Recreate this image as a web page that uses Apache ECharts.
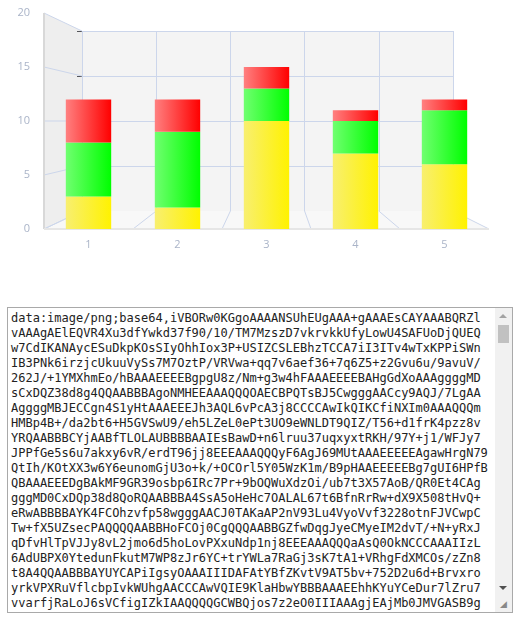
<!DOCTYPE html>
<html><head><meta charset="utf-8">
<script src="https://cdn.jsdelivr.net/npm/echarts@6/dist/echarts.min.js"></script>
<style>
body{margin:0;background:#fff;}
#chart{position:absolute;left:0;top:0;width:529px;height:260px;}
#txt{position:absolute;left:7px;top:307px;width:506px;height:306px;box-sizing:border-box;border:1px solid #a9a9a9;
font-family:"DejaVu Sans Mono",monospace;font-size:12px;line-height:15px;padding:3px 20px 3px 3px;color:#222;
resize:none;overflow:hidden;white-space:pre;margin:0;}
#sb{position:absolute;left:495px;top:308px;width:17px;height:304px;background:#f1f1f1;}
#thumb{position:absolute;left:3px;top:17px;width:11px;height:18px;background:#c1c1c1;}
.arr{position:absolute;left:4px;width:0;height:0;border-left:4px solid transparent;border-right:4px solid transparent;}
#up{top:6px;border-bottom:4px solid #a3a3a3;}
#dn{top:278px;border-top:4px solid #505050;}
#grip{position:absolute;left:5px;bottom:3px;font:9px sans-serif;color:#888;}
</style></head><body>
<div id="chart"></div>
<textarea id="txt" wrap="off"></textarea>
<div id="sb"><div class="arr" id="up"></div><div id="thumb"></div><div class="arr" id="dn"></div><div id="grip">◢</div></div>
<script>
const categories = ['1','2','3','4','5'];
const yellowVals = [3, 2, 10, 7, 6];
const greenVals = [5, 7, 3, 3, 5];
const redVals = [4, 3, 2, 1, 1];
const textLines = [
'data:image/png;base64,iVBORw0KGgoAAAANSUhEUgAAA+gAAAEsCAYAAABQRZl',
'vAAAgAElEQVR4Xu3dfYwkd37f90/10/TM7MzszD7vkrvkkUfyLowU4SAFUoDjQUEQ',
'w7CdIKANAycESuDkpKOsSIyOhhIox3P+USIZCSLEBhzTCCA7iI3ITv4wTxKPPiSWn',
'IB3PNk6irzjcUkuuVySs7M7OztP/VRVwa+qq7v6aef36+7q6Z5+z2Gvu6u/9avuV/',
'262J/+1YMXhmEo/hBAAAEEEEBgpgU8z/Nm+g3w4hFAAAEEEEBAHgGdXoAAAggggMD',
'sCxDQZ38d8g4QQAABBBAgoNMHEEAAAQQQOAECBPQTsBJ5CwgggAACcy9AQJ/7LgAA',
'AggggMBJECCgn4S1yHtAAAEEEJh3AQL6vPcA3j8CCCCAwIkQIKCfiNXIm0AAAQQQm',
'HMBp4B+/da2bt6+H5GVSwU9/eh5LZeL0ePt3UO9eWNLDT9QIZ/T56+d1frK4pzz8v',
'YRQAABBBCYjAABfTLOLAUBBBBAAIEsBawD+n6lruu37uqxyxtRKH/97Y+j1/WFJy7',
'JPPfGe5s6u7akxy6vR/erdT96jj8EEEAAAQQQyF6AgJ69MUtAAAEEEEEAgawHrgN79',
'QtIh/KOtXX3w6Y6eunomGjU3o+k/+OCOrl5Y05WzK1m/B9pHAAEEEEEBg7gUI6HPfB',
'QBAAAEEEDgBAkMF9GR39osbp6IRc7Pr+9bOQWuXdzOi/ub7t3X57AoB/QR0Et4CAg',
'gggMD0CxDQp38d8QoRQAABBBA4SsA5oHeHc7OALAL67t6BfnRrRw+dX9X508tHvQ+',
'eRwABBBBAYK4FCOhzvfp58wgggAACJ0TAKaAP2nV93Lu4VyoVvf3228otnFJVCwpC',
'Tw+fX5UZsecPAQQQQAABBHoFCOj0CgQQQAABBGZfwDqgJyeCMyeIM2dvT/+N+yRxJ',
'qDfvHlTpVJJy8vL2jmo6d5hoLovPXxuNdp1nj8EEEAAAQQQaAsQ0OkNCCCAAAIIzL',
'6AdUBPX0YtedunFkutM7WP8zJr6YC+trYWLa7RaGj3sK7tA1+VRhgFdXMCOs/zZn8',
't8A4QQAABBBAYUYCAPiIgsyOAAAIIIDAFAtYBfZKvtV9AT5bv+752D2u6d+Brvxro',
'yrkVPXRuVflcbpIvkWUhgAACCCAwVQIE9KlaHbwYBBBAAAEEhhKYuYCeDur7lZru7',
'vvarfjRaLoJ6sVCfigIZkIAAQQQQGCWBQjos7z2eO0IIIAAAgjEAjMb0JMVGASB9g',
'6AdUBPX0YtedunFkutM7WP8zJr6YC+trYWLa7RaGj3sK7tA1+VRhgFdXMCOs/zZn8'
];
document.getElementById('txt').value = textLines.join('\n');

const chart = echarts.init(document.getElementById('chart'));
const axisCol = '#ccd6eb';
function grad(light, dark){
  return new echarts.graphic.LinearGradient(0,0,1,0,[{offset:0,color:light},{offset:1,color:dark}]);
}
function bar(name, data, light, dark){
  return {name, type:'bar', stack:'s', data, xAxisIndex:0, yAxisIndex:0, barWidth:'51%',
    itemStyle:{color:grad(light,dark)}, z:5, silent:true};
}
chart.setOption({
  animation:false,
  grid:[
    {left:44, top:13, width:445, height:216},
    {left:82, top:31, width:371, height:180, show:true, backgroundColor:'#f4f4f4', borderWidth:0}
  ],
  xAxis:[
    {type:'category', data:categories, gridIndex:0, axisLine:{show:false}, axisTick:{show:false},
     axisLabel:{color:'#aab4c8', fontSize:11, margin:10, fontFamily:'Open Sans'}},
    {type:'value', gridIndex:1, min:0, max:5, interval:1, axisLabel:{show:false}, axisLine:{show:false}, axisTick:{show:false},
     splitLine:{show:true, lineStyle:{color:axisCol}}}
  ],
  yAxis:[
    {type:'value', gridIndex:0, min:0, max:20, interval:5, axisLine:{show:false}, splitLine:{show:false},
     axisLabel:{color:'#aab4c8', fontSize:11, margin:14, fontFamily:'Open Sans'}},
    {type:'value', gridIndex:1, min:0, max:20, interval:5, axisLabel:{show:false}, axisLine:{show:false},
     splitLine:{show:true, lineStyle:{color:axisCol}}}
  ],
  series:[
    bar('yellow', yellowVals, '#f8ef70', '#fff200'),
    bar('green', greenVals, '#70ff70', '#00ff00'),
    bar('red', redVals, '#ff8080', '#ff0000')
  ]
});

// side wall and floor, computed from both grids
const g = [];
const fx0 = 44, fx1 = 489;
const fy = v => chart.convertToPixel({yAxisIndex:0}, v);
const bx = i => chart.convertToPixel({xAxisIndex:1}, i);
const by = v => chart.convertToPixel({yAxisIndex:1}, v);
g.push({type:'polygon', z:0, shape:{points:[[fx0,fy(0)],[fx0,fy(20)],[bx(0),by(20)],[bx(0),by(0)]]}, style:{fill:'#eeeeee'}});
g.push({type:'polygon', z:0, shape:{points:[[fx0,fy(0)],[bx(0),by(0)],[bx(5),by(0)],[fx1,fy(0)]]}, style:{fill:'#f8f8f8'}});
[0,5,10,15,20].forEach(v => g.push({type:'line', z:1, shape:{x1:fx0,y1:fy(v),x2:bx(0),y2:by(v)}, style:{stroke:axisCol, lineWidth:1}}));
for (let i=0;i<=5;i++){
  const fxx = fx0 + (fx1-fx0)*i/5;
  g.push({type:'line', z:1, shape:{x1:fxx,y1:fy(0),x2:bx(i),y2:by(0)}, style:{stroke:axisCol, lineWidth:1}});
}
g.push({type:'line', z:1, shape:{x1:fx0,y1:fy(0),x2:fx0,y2:fy(20)}, style:{stroke:'#d8d8d8', lineWidth:2}});
g.push({type:'line', z:1, shape:{x1:fx0,y1:fy(0),x2:fx1,y2:fy(0)}, style:{stroke:'#e6e6e6', lineWidth:2}});
chart.setOption({graphic:g});
</script>
</body></html>
